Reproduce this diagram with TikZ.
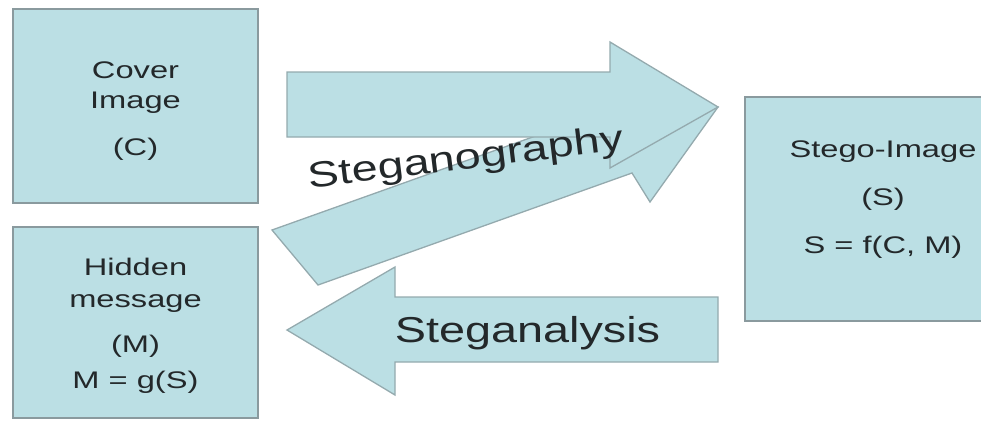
\documentclass[tikz,border=0pt]{standalone}
\usepackage{fontspec}
\setmainfont{Liberation Sans}
\definecolor{panelfill}{RGB}{187,223,228}
\definecolor{paneledge}{RGB}{138,154,158}
\definecolor{arrowedge}{RGB}{148,170,174}
\definecolor{inkgray}{RGB}{35,40,42}
\newcommand{\panellines}[1]{\scalebox{1.36}[1]{\begin{tabular}[t]{@{}c@{}}#1\end{tabular}}}
\newcommand{\arrowword}[1]{\scalebox{1.3}[1]{#1}}
\begin{document}
\begin{tikzpicture}[x=1pt,y=-1pt,line join=miter,
  panel/.style={draw=paneledge,fill=panelfill,line width=1.5pt,inner sep=0pt},
  blockarrow/.style={draw=arrowedge,fill=panelfill,line width=1.3pt},
  paneltext/.style={inner sep=0pt,anchor=base,text=inkgray,font=\fontsize{24}{30}\selectfont},
  arrowtext/.style={inner sep=0pt,anchor=base,text=inkgray,font=\fontsize{36}{40}\selectfont}]
  \useasboundingbox (0,0) rectangle (981,421);
  \clip (0,0) rectangle (981,421);
  % boxes
  \node[panel,minimum width=245pt,minimum height=194pt] (cover) at (135.5,106) {};
  \node[panel,minimum width=245pt,minimum height=191pt] (hidden) at (135.5,322.5) {};
  \node[panel,minimum width=276pt,minimum height=224pt] (stego) at (883,209) {};
  % arrows
  \draw[blockarrow] (272,230) -- (595.7,114.5) -- (577.7,85.5) -- (718,107)
    -- (650,202) -- (632,173) -- (318,285) -- cycle;
  \draw[blockarrow] (287,72) -- (610,72) -- (610,42) -- (718,107)
    -- (610,168) -- (610,137) -- (287,137) -- cycle;
  \draw[blockarrow] (718,297) -- (395,297) -- (395,267) -- (287,330)
    -- (395,395) -- (395,362) -- (718,362) -- cycle;
  % texts
  \node[paneltext] (covertext) at (135.5,78) {\panellines{Cover\\Image\\[17pt](C)}};
  \node[paneltext] (hiddentext) at (135.5,275) {\panellines{Hidden\\[2pt]message\\[15pt](M)\\[6pt]M = g(S)}};
  \node[paneltext] (stegotext) at (883,157) {\panellines{Stego-Image\\[18pt](S)\\[18pt]S = f(C, M)}};
  \node[arrowtext,rotate=7] (embedtext) at (467,169) {\arrowword{Steganography}};
  \node[arrowtext] (analysetext) at (527.5,342) {\arrowword{Steganalysis}};
\end{tikzpicture}
\end{document}
